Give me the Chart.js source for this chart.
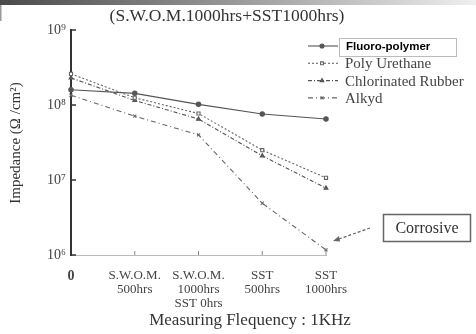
<!DOCTYPE html>
<html>
<head>
<meta charset="utf-8">
<script src="https://cdn.jsdelivr.net/npm/chart.js@4.4.0/dist/chart.umd.min.js"></script>
<style>
  html, body { margin: 0; padding: 0; background: #fff; }
  #wrap { width: 476px; height: 334px; position: relative; }
</style>
</head>
<body>
<div id="wrap"><canvas id="c" width="476" height="334"></canvas></div>
<script>
// 測定ステージ
const stages = [['0'], ['S.W.O.M.', '500hrs'], ['S.W.O.M.', '1000hrs', 'SST 0hrs'], ['SST', '500hrs'], ['SST', '1000hrs']];
const seriesNames = ['Fluoro-polymer', 'Poly Urethane', 'Chlorinated Rubber', 'Alkyd'];
// インピーダンス (Ω/cm²)
const fluoro = [1.6e8, 1.43e8, 1.02e8, 7.6e7, 6.5e7];
const polyUrethane = [2.6e8, 1.25e8, 7.7e7, 2.5e7, 1.07e7];
const chlorRubber = [2.3e8, 1.15e8, 6.5e7, 2.1e7, 7.8e6];
const alkyd = [1.35e8, 7.1e7, 4.0e7, 4.9e6, 1.17e6];
const yTicks = [1e6, 1e7, 1e8, 1e9];

const SERIF = '"Liberation Serif", "DejaVu Serif", serif';
const sup = { '6': '⁶', '7': '⁷', '8': '⁸', '9': '⁹' };

const styles = [
    { dash: [], point: 'circle', color: '#555', fill: '#555' },
    { dash: [2, 2], point: 'rect', color: '#666', fill: '#fff' },
    { dash: [4, 2, 1, 2], point: 'triangle', color: '#555', fill: '#666' },
    { dash: [5, 3, 1, 3], point: 'crossRot', color: '#666', fill: '#666' }
];
const allData = [fluoro, polyUrethane, chlorRubber, alkyd];

const datasets = allData.map((d, i) => ({
    label: seriesNames[i],
    data: d,
    borderColor: styles[i].color,
    backgroundColor: styles[i].fill,
    borderWidth: 1.1,
    borderDash: styles[i].dash,
    pointStyle: styles[i].point,
    pointRadius: 2.2,
    pointBorderColor: styles[i].color,
    pointBackgroundColor: styles[i].fill,
    pointBorderWidth: 1.1,
    tension: 0
}));

// 追加の文字・凡例・矢印
const extras = {
    id: 'extras',
    afterDraw(chart) {
        const ctx = chart.ctx;
        const x = chart.scales.x, y = chart.scales.y;
        const area = chart.chartArea;
        ctx.save();

        // 上部のグラデーション帯
        const g = ctx.createLinearGradient(0, 0, 476, 0);
        g.addColorStop(0, '#4a4a4a');
        g.addColorStop(0.5, '#9a9a9a');
        g.addColorStop(1, '#efefef');
        ctx.fillStyle = g;
        ctx.fillRect(0, 0, 476, 5);
        ctx.fillStyle = '#999';
        ctx.fillRect(0, 5, 1.5, 16);

        // タイトル
        ctx.fillStyle = '#333';
        ctx.font = '17.5px ' + SERIF;
        ctx.textAlign = 'center';
        ctx.textBaseline = 'middle';
        ctx.fillText('(S.W.O.M.1000hrs+SST1000hrs)', 227, 16);

        // y 軸タイトル
        ctx.save();
        ctx.translate(16, 143);
        ctx.rotate(-Math.PI / 2);
        ctx.font = '15px ' + SERIF;
        ctx.fillText('Impedance (Ω /cm²)', 0, 0);
        ctx.restore();

        // x 軸タイトル
        ctx.font = '17px ' + SERIF;
        ctx.fillText('Measuring Flequency : 1KHz', 250, 321);

        // 目盛り（内向き）
        ctx.strokeStyle = '#333';
        ctx.lineWidth = 1.5;
        yTicks.forEach(v => {
            const py = y.getPixelForValue(v);
            ctx.beginPath();
            ctx.moveTo(area.left, py);
            ctx.lineTo(area.left + 5, py);
            ctx.stroke();
        });
        ctx.strokeStyle = '#888';
        ctx.lineWidth = 1;
        for (let i = 1; i < stages.length; i++) {
            const px = x.getPixelForValue(i);
            ctx.beginPath();
            ctx.moveTo(px, area.bottom);
            ctx.lineTo(px, area.bottom - 4);
            ctx.stroke();
        }

        // 凡例
        chart.data.datasets.forEach((ds, i) => {
            const ly = 46 + i * 17.3;
            ctx.strokeStyle = ds.borderColor;
            ctx.lineWidth = 1.1;
            ctx.setLineDash(ds.borderDash);
            ctx.beginPath();
            ctx.moveTo(308, ly);
            ctx.lineTo(338, ly);
            ctx.stroke();
            ctx.setLineDash([]);
            ctx.fillStyle = ds.pointBackgroundColor;
            Chart.helpers.drawPoint(ctx, { pointStyle: ds.pointStyle, radius: 2, rotation: 0, borderWidth: 1 }, 322, ly);
            ctx.textAlign = 'left';
            if (i === 0) {
                ctx.strokeStyle = '#bbb';
                ctx.lineWidth = 1;
                ctx.strokeRect(339.5, 38.5, 117, 18);
                ctx.fillStyle = '#000';
                ctx.font = 'bold 11.5px "Liberation Sans", Arial, sans-serif';
                ctx.fillText(ds.label, 346, ly + 1);
            } else {
                ctx.fillStyle = '#444';
                ctx.font = '15px ' + SERIF;
                ctx.fillText(ds.label, 345, ly + 1);
            }
        });

        // Corrosive 注記
        ctx.strokeStyle = '#666';
        ctx.lineWidth = 1.5;
        ctx.strokeRect(383.5, 214.5, 87, 27);
        ctx.fillStyle = '#333';
        ctx.font = '16px ' + SERIF;
        ctx.textAlign = 'center';
        ctx.fillText('Corrosive', 427, 229);
        ctx.strokeStyle = '#666';
        ctx.lineWidth = 1.2;
        ctx.setLineDash([3, 2]);
        ctx.beginPath();
        ctx.moveTo(370, 228);
        ctx.lineTo(336, 240);
        ctx.stroke();
        ctx.setLineDash([]);
        ctx.beginPath();
        ctx.moveTo(333, 241);
        ctx.lineTo(339, 236);
        ctx.lineTo(340, 241.5);
        ctx.closePath();
        ctx.fillStyle = '#666';
        ctx.fill();

        ctx.restore();
    }
};

new Chart(document.getElementById('c'), {
    type: 'line',
    data: { labels: stages, datasets },
    options: {
        responsive: false,
        animation: false,
        layout: { padding: { left: 0, top: 30, right: 150, bottom: 0 } },
        plugins: { legend: { display: false }, tooltip: { enabled: false } },
        scales: {
            x: {
                offset: false,
                grid: { display: false, drawTicks: false },
                border: { display: true, color: '#bbb', width: 1 },
                ticks: {
                    color: '#444',
                    padding: 14,
                    maxRotation: 0,
                    autoSkip: false,
                    font: c => c.index === 0
                        ? { family: SERIF, size: 14, weight: 'bold', lineHeight: 1.05 }
                        : { family: SERIF, size: 13, lineHeight: 1.05 }
                },
                afterFit: s => { s.height = 79; }
            },
            y: {
                type: 'logarithmic',
                min: 1e6,
                max: 1e9,
                grid: { display: false, drawTicks: false },
                border: { display: true, color: '#333', width: 2 },
                afterBuildTicks: s => { s.ticks = yTicks.map(v => ({ value: v })); },
                ticks: {
                    color: '#444',
                    padding: 5,
                    font: { family: SERIF, size: 14 },
                    callback: v => '10' + sup[String(Math.round(Math.log10(v)))]
                },
                afterFit: s => { s.width = 71; }
            }
        }
    },
    plugins: [extras]
});
</script>
</body>
</html>
